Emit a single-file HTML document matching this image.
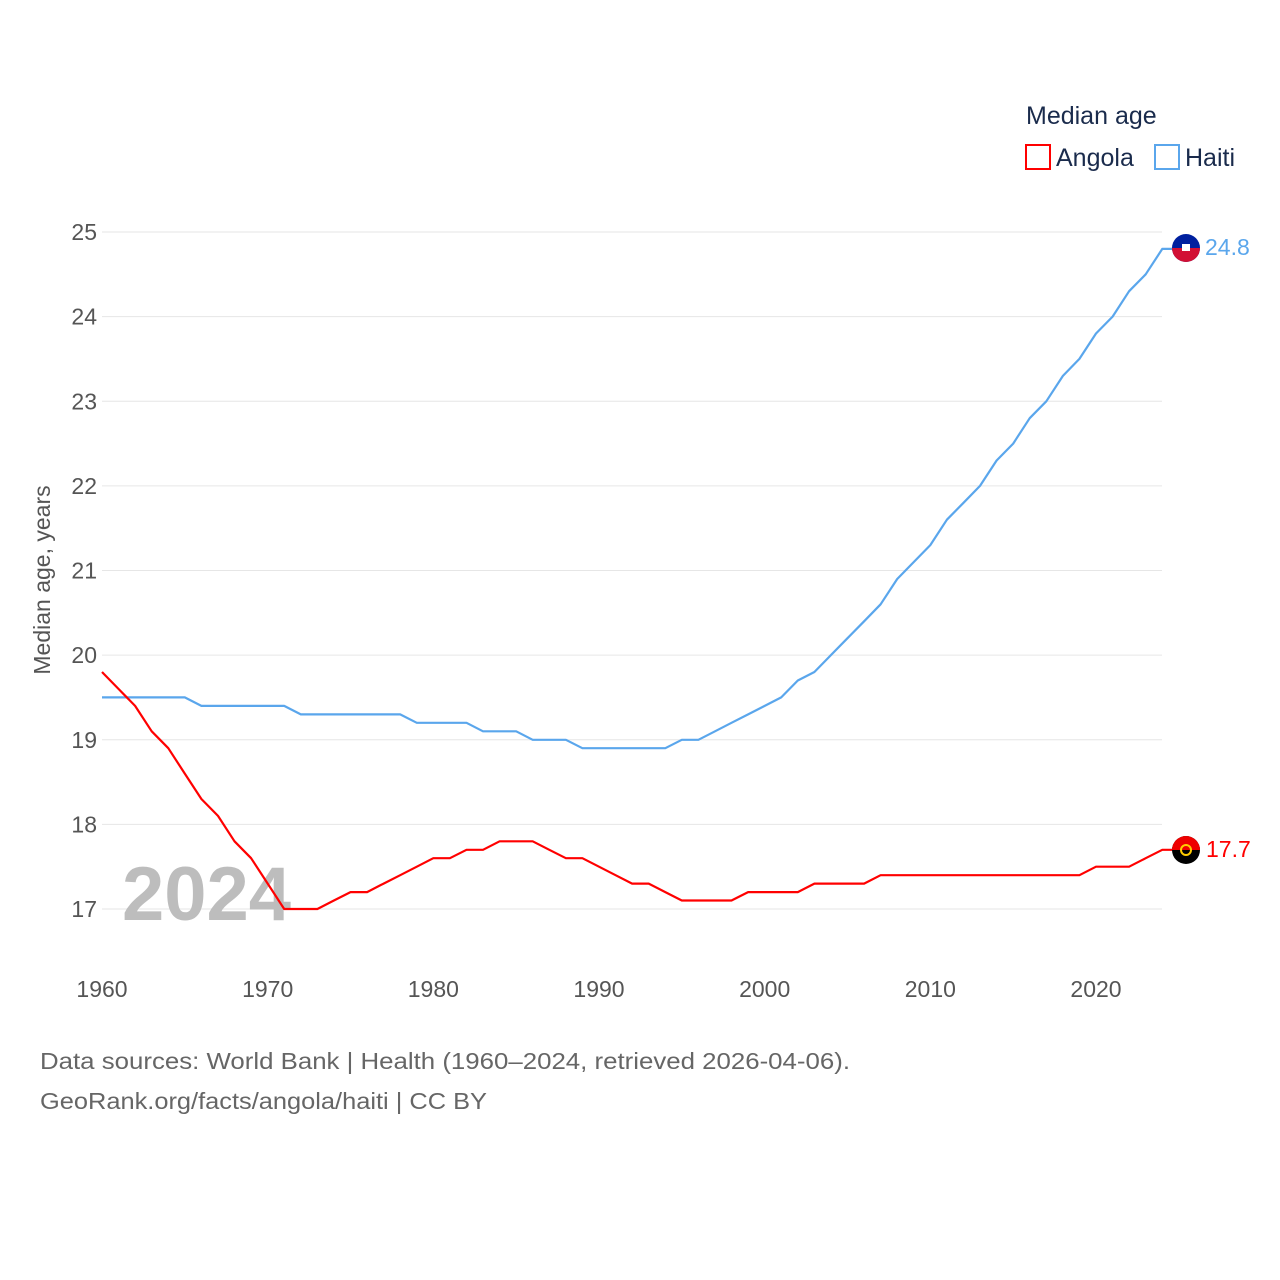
<!DOCTYPE html>
<html><head><meta charset="utf-8"><style>
html,body{margin:0;padding:0;background:#fff;}
svg{display:block;font-family:"Liberation Sans",sans-serif;}
</style></head><body>
<svg width="1280" height="1280" viewBox="0 0 1280 1280">
<g id="grid"></g>
<g id="yt"></g>
<g id="xt"></g>
<text x="122" y="920" font-size="76" font-weight="bold" fill="#bdbdbd">2024</text>
<text transform="translate(50,580) rotate(-90)" text-anchor="middle" font-size="23" fill="#555">Median age, years</text>
<g id="lines"></g>
<text x="1026" y="124" font-size="25" fill="#1a2b4c">Median age</text>
<g><rect x="1026" y="145" width="24" height="24" fill="none" stroke="#f00" stroke-width="2"/><text x="1056" y="166" font-size="25" fill="#1a2b4c">Angola</text></g>
<g><rect x="1155" y="145" width="24" height="24" fill="none" stroke="#5aa6ec" stroke-width="2"/><text x="1185" y="166" font-size="25" fill="#1a2b4c">Haiti</text></g>
<g>
<circle cx="1186" cy="248" r="14" fill="#00209f"/><path d="M1172 248 A14 14 0 0 0 1200 248 Z" fill="#d21034"/><rect x="1182" y="244" width="8" height="7" fill="#fff"/>
<text x="1205" y="255" font-size="23" fill="#5aa6ec">24.8</text></g>
<g>
<circle cx="1186" cy="850" r="14" fill="#000"/><path d="M1172 850 A14 14 0 0 1 1200 850 Z" fill="#e00"/><circle cx="1186" cy="850" r="5" fill="none" stroke="#fc0" stroke-width="2"/>
<text x="1206" y="857" font-size="23" fill="#f00">17.7</text></g>
<text x="40" y="1069" font-size="23" fill="#666" textLength="810" lengthAdjust="spacingAndGlyphs">Data sources: World Bank | Health (1960–2024, retrieved 2026-04-06).</text>
<text x="40" y="1109" font-size="23" fill="#666" textLength="447" lengthAdjust="spacingAndGlyphs">GeoRank.org/facts/angola/haiti | CC BY</text>
</svg>
<script>
const years=[];for(let y=1960;y<=2024;y++)years.push(y);
const haiti=[19.5,19.5,19.5,19.5,19.5,19.5,19.4,19.4,19.4,19.4,19.4,19.4,19.3,19.3,19.3,19.3,19.3,19.3,19.3,19.2,19.2,19.2,19.2,19.1,19.1,19.1,19.0,19.0,19.0,18.9,18.9,18.9,18.9,18.9,18.9,19.0,19.0,19.1,19.2,19.3,19.4,19.5,19.7,19.8,20.0,20.2,20.4,20.6,20.9,21.1,21.3,21.6,21.8,22.0,22.3,22.5,22.8,23.0,23.3,23.5,23.8,24.0,24.3,24.5,24.8];
const angola=[19.8,19.6,19.4,19.1,18.9,18.6,18.3,18.1,17.8,17.6,17.3,17.0,17.0,17.0,17.1,17.2,17.2,17.3,17.4,17.5,17.6,17.6,17.7,17.7,17.8,17.8,17.8,17.7,17.6,17.6,17.5,17.4,17.3,17.3,17.2,17.1,17.1,17.1,17.1,17.2,17.2,17.2,17.2,17.3,17.3,17.3,17.3,17.4,17.4,17.4,17.4,17.4,17.4,17.4,17.4,17.4,17.4,17.4,17.4,17.4,17.5,17.5,17.5,17.6,17.7];
const yTicks=[17,18,19,20,21,22,23,24,25];
const xTicks=[1960,1970,1980,1990,2000,2010,2020];
const NS="http://www.w3.org/2000/svg";
const X=y=>102+(y-1960)*(994/60);
const Y=v=>909-(v-17)*(677/8);
function mk(t,a,p){const e=document.createElementNS(NS,t);for(const k in a)e.setAttribute(k,a[k]);p.appendChild(e);return e;}
const g=document.getElementById('grid'),yt=document.getElementById('yt'),xt=document.getElementById('xt'),L=document.getElementById('lines');
yTicks.forEach(v=>{const l=mk('line',{x1:102,x2:1162,y1:Y(v),y2:Y(v),stroke:'#e6e6e6','stroke-width':1},g);


const t=mk('text',{x:97,y:Y(v)+8,'text-anchor':'end','font-size':23,fill:'#555'},yt);t.textContent=v;

});
xTicks.forEach(v=>{const t=mk('text',{x:X(v),y:997,'text-anchor':'middle','font-size':23,fill:'#555'},xt);t.textContent=v;

});
function line(d,c,n){const pts=d.map((v,i)=>X(years[i]).toFixed(1)+','+Y(v).toFixed(1));
pts.push((X(2024)+10)+','+Y(d[d.length-1]).toFixed(1));
const p=mk('polyline',{points:pts.join(' '),fill:'none',stroke:c,'stroke-width':2.2,'stroke-linejoin':'round'},L);

}
line(haiti,'#5aa6ec','haiti-line');
line(angola,'#f00','angola-line');
</script>
</body></html>
